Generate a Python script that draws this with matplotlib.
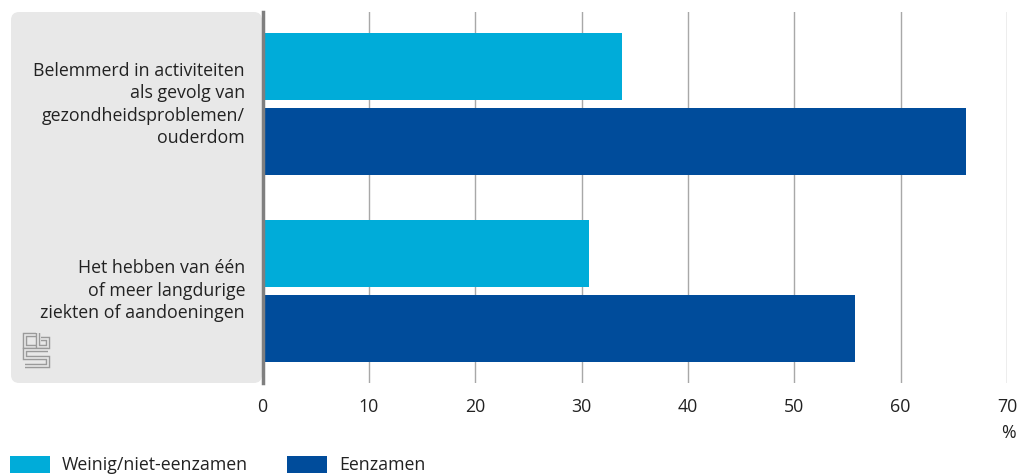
import matplotlib.pyplot as plt
from matplotlib.patches import FancyBboxPatch, Rectangle
from matplotlib.lines import Line2D

plt.rcParams['font.family'] = ['Open Sans', 'DejaVu Sans']

categories = [
    "Belemmerd in activiteiten\nals gevolg van\ngezondheidsproblemen/\nouderdom",
    "Het hebben van één\nof meer langdurige\nziekten of aandoeningen",
]
series_names = ["Weinig/niet-eenzamen", "Eenzamen"]
weinig = [33.8, 30.7]
eenzamen = [66.1, 55.7]
xticks = [0, 10, 20, 30, 40, 50, 60, 70]

light = '#00acd9'
dark = '#004c9b'
text_col = '#222222'
fs = 12.8

W, H = 1027, 475
fig = plt.figure(figsize=(W / 100, H / 100), dpi=100)


def fx(px):
    return px / W


def fy(py):
    return 1 - py / H


# grey label panel behind the category names
panel = FancyBboxPatch((fx(11), fy(383)), fx(262) - fx(11), fy(12) - fy(383),
                       boxstyle="round,pad=0,rounding_size=0.008",
                       transform=fig.transFigure, facecolor='#e8e8e8',
                       edgecolor='none', zorder=-1, mutation_aspect=W / H)
fig.patches.append(panel)

ax = fig.add_axes([fx(262.5), fy(383), fx(1007) - fx(262.5), fy(12) - fy(383)])
ax.set_facecolor('none')

ypos = [0, 1]
bh = 0.36
off = 0.2016
ax.barh([y - off for y in ypos], weinig, height=bh, color=light, zorder=3)
ax.barh([y + off for y in ypos], eenzamen, height=bh, color=dark, zorder=3)

ax.set_xlim(0, 70)
ax.set_ylim(1.497, -0.497)
ax.set_xticks(xticks)
ax.set_xticklabels([str(t) for t in xticks], fontsize=fs, color=text_col)
ax.tick_params(axis='x', length=0, pad=11)
ax.set_yticks([])
ax.grid(axis='x', color='#a8a8a8', linewidth=1, zorder=1)
for s in ['top', 'right', 'bottom']:
    ax.spines[s].set_visible(False)
ax.spines['left'].set_color('#7f7f7f')
ax.spines['left'].set_linewidth(2.5)
ax.spines['left'].set_zorder(4)

for y, lab in zip(ypos, categories):
    ax.text(-0.0235, y, lab, transform=ax.get_yaxis_transform(),
            ha='right', va='center', multialignment='right',
            fontsize=fs, color=text_col, linespacing=1.3)

fig.text(fx(1008), fy(433), '%', ha='center', va='center', fontsize=fs, color=text_col)

# legend
for x0, col, name in [(10, light, series_names[0]), (287, dark, series_names[1])]:
    fig.patches.append(Rectangle((fx(x0), fy(473)), fx(40), fy(456) - fy(473),
                                 transform=fig.transFigure, facecolor=col,
                                 edgecolor='none'))
    fig.text(fx(x0 + 52), fy(465), name, ha='left', va='center',
             fontsize=fs, color=text_col)

# cbs logo, double outlined strokes
logo = [
    [(36, 335), (25, 335), (25, 347), (36, 347)],
    [(38, 333), (38, 347), (48, 347), (48, 339), (41, 339)],
    [(48, 350), (25, 350), (25, 358), (48, 358), (48, 366), (25, 366)],
]
for path in logo:
    xs = [fx(p[0]) for p in path]
    ys = [fy(p[1]) for p in path]
    fig.add_artist(Line2D(xs, ys, transform=fig.transFigure, color='#9a9a9a',
                          linewidth=3.2, solid_joinstyle='miter', solid_capstyle='butt'))
    fig.add_artist(Line2D(xs, ys, transform=fig.transFigure, color='#e8e8e8',
                          linewidth=1.2, solid_joinstyle='miter', solid_capstyle='butt'))

fig.savefig('out.png', dpi=100)
